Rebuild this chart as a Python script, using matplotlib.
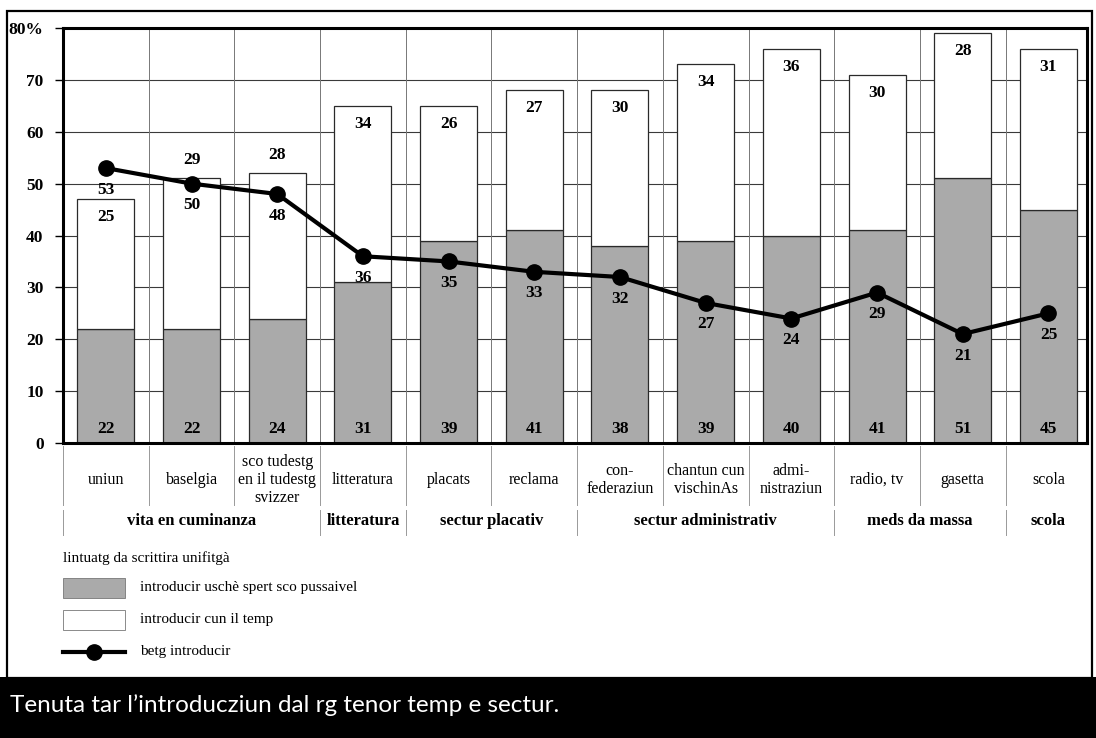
import matplotlib
matplotlib.use("Agg")
import matplotlib.pyplot as plt
from matplotlib.patches import Rectangle
from matplotlib.lines import Line2D
import numpy as np

# ---- data ----
categories = ["uniun", "baselgia", "sco tudestg\nen il tudestg\nsvizzer", "litteratura",
              "placats", "reclama", "con-\nfederaziun", "chantun cun\nvischinAs",
              "admi-\nnistraziun", "radio, tv", "gasetta", "scola"]
fast_intro = [22, 22, 24, 31, 39, 41, 38, 39, 40, 41, 51, 45]      # introducir uschè spert sco pussaivel
slow_intro = [25, 29, 28, 34, 26, 27, 30, 34, 36, 30, 28, 31]      # introducir cun il temp
no_intro = [53, 50, 48, 36, 35, 33, 32, 27, 24, 29, 21, 25]        # betg introducir
groups = ["vita en cuminanza", "litteratura", "sectur placativ",
          "sectur administrativ", "meds da massa", "scola"]
group_sizes = [3, 1, 2, 3, 2, 1]
yticks = [0, 10, 20, 30, 40, 50, 60, 70, 80]
ytick_labels = ["0", "10", "20", "30", "40", "50", "60", "70", "80%"]
legend_title = "lintuatg da scrittira unifitgà"
legend_labels = ["introducir uschè spert sco pussaivel", "introducir cun il temp", "betg introducir"]
caption = "Tenuta tar l\u2019introducziun dal rg tenor temp e sectur."

SERIF = ["Liberation Serif", "DejaVu Serif"]
GRAY = "#aaaaaa"

W, H = 1096, 738
def fx(x): return x / W
def fy(y): return 1 - y / H

fig = plt.figure(figsize=(W / 100, H / 100), dpi=100)
fig.patch.set_facecolor("white")

ax = fig.add_axes([fx(63), fy(443), (1087 - 63) / W, (443 - 28) / H])
x = np.arange(len(categories))
ax.set_xlim(-0.5, 11.45)
ax.set_ylim(0, 80)

# grid
for yv in yticks[1:-1]:
    ax.axhline(yv, color="#3a3a3a", lw=0.8, zorder=0)
for b in np.arange(0.5, len(categories) - 0.5, 1):
    ax.axvline(b, color="#777777", lw=0.7, zorder=0)

bw = 0.665
ax.bar(x, fast_intro, width=bw, color=GRAY, edgecolor="#2a2a2a", lw=0.9, zorder=2)
ax.bar(x, slow_intro, width=bw, bottom=fast_intro, color="white", edgecolor="#2a2a2a", lw=0.9, zorder=2)
ax.plot(x, no_intro, color="black", lw=3, marker="o", ms=11, zorder=4)

numfont = dict(family=SERIF, fontweight="bold", fontsize=12.5)
for i in range(len(categories)):
    ax.annotate(str(fast_intro[i]), (i, 0), xytext=(0, 10), textcoords="offset points",
                ha="center", va="center", zorder=5, **numfont)
    tot = fast_intro[i] + slow_intro[i]
    off = 13 if i in (1, 2) else -13
    ax.annotate(str(slow_intro[i]), (i, tot), xytext=(0, off), textcoords="offset points",
                ha="center", va="center", zorder=5, **numfont)
    ax.annotate(str(no_intro[i]), (i, no_intro[i]), xytext=(0, -15.5), textcoords="offset points",
                ha="center", va="center", zorder=5, **numfont)

ax.set_yticks(yticks)
ax.set_yticklabels(ytick_labels, fontfamily=SERIF, fontweight="bold", fontsize=12.5)
ax.tick_params(axis="y", direction="out", length=6, width=1, pad=8)
ax.set_xticks([])
for s in ax.spines.values():
    s.set_linewidth(2.2)
    s.set_color("black")

# category labels and separators
tr = ax.get_xaxis_transform()
ah = 443 - 28
def ay(ypx): return (443 - ypx) / ah
for i, c in enumerate(categories):
    ax.text(i, ay(480), c, transform=tr, ha="center", va="center", fontfamily=SERIF,
            fontsize=11.5, linespacing=1.15, clip_on=False)
for b in np.arange(-0.5, len(categories), 1):
    ax.plot([b, b], [ay(446), ay(505)], transform=tr, color="#999999", lw=0.7, clip_on=False)
start = -0.5
for g, n in zip(groups, group_sizes):
    ax.plot([start, start], [ay(510), ay(535)], transform=tr, color="#999999", lw=0.7, clip_on=False)
    ax.text(start + n / 2, ay(521), g, transform=tr, ha="center", va="center", fontfamily=SERIF,
            fontweight="bold", fontsize=12, clip_on=False)
    start += n
ax.plot([start, start], [ay(510), ay(535)], transform=tr, color="#999999", lw=0.7, clip_on=False)

# legend (manual)
fig.text(fx(63), fy(558), legend_title, ha="left", va="center", fontfamily=SERIF, fontsize=11)
fig.add_artist(Rectangle((fx(63), fy(598)), 62 / W, 20 / H, transform=fig.transFigure,
                         facecolor=GRAY, edgecolor="#777777", lw=0.6))
fig.add_artist(Rectangle((fx(63), fy(630)), 62 / W, 20 / H, transform=fig.transFigure,
                         facecolor="white", edgecolor="#777777", lw=0.6))
fig.add_artist(Line2D([fx(63), fx(125)], [fy(652), fy(652)], transform=fig.transFigure,
                      color="black", lw=3))
fig.add_artist(Line2D([fx(94)], [fy(652)], transform=fig.transFigure, marker="o", ms=11,
                      color="black"))
for lbl, ypx in zip(legend_labels, [588, 620, 652]):
    fig.text(fx(140), fy(ypx), lbl, ha="left", va="center", fontfamily=SERIF, fontsize=11)

# outer frame and caption band
fig.add_artist(Rectangle((fx(7), fy(678)), (1092 - 7) / W, (678 - 11) / H, transform=fig.transFigure,
                         facecolor="none", edgecolor="black", lw=1.6))
fig.add_artist(Rectangle((0, 0), 1, (738 - 677) / H, transform=fig.transFigure,
                         facecolor="black", edgecolor="none", zorder=10))
fig.text(fx(10), fy(705), caption, ha="left", va="center", color="white", fontsize=17.5,
         fontfamily=["Lato", "DejaVu Sans"], fontweight="normal", zorder=11)

fig.savefig("out.png", dpi=100)
